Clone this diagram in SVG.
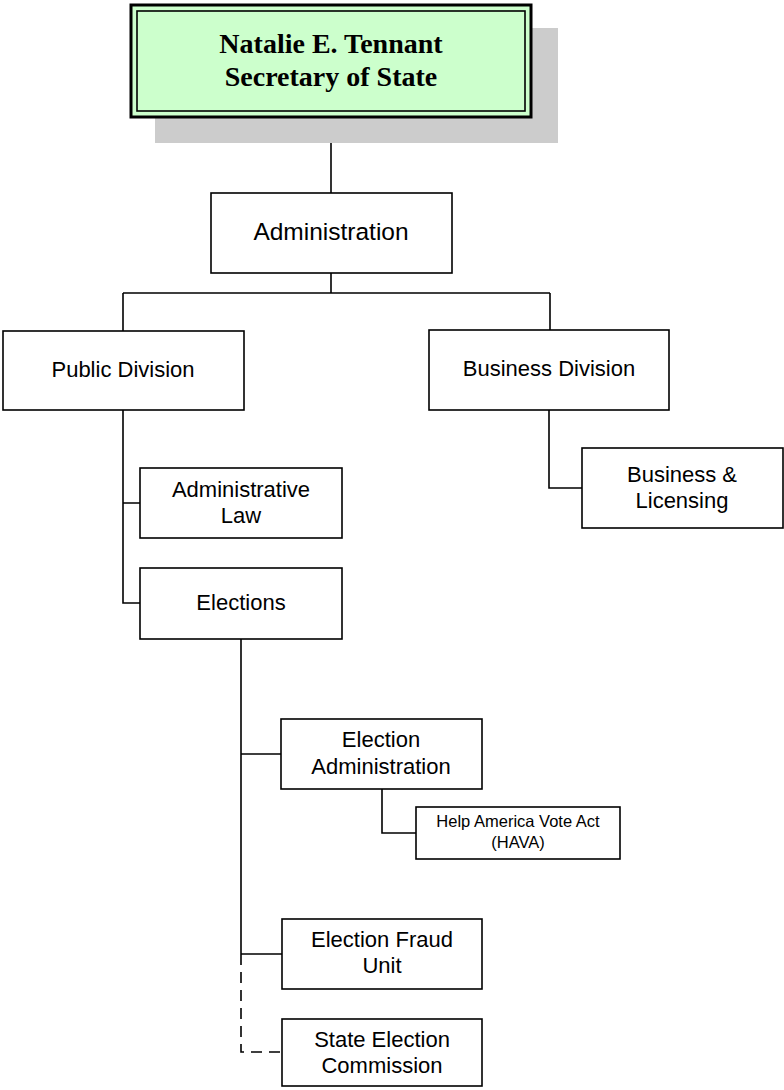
<svg xmlns="http://www.w3.org/2000/svg" width="784" height="1090" viewBox="0 0 784 1090">
<style>
.box{fill:#fff;stroke:#000;stroke-width:1.6}
.t{font-family:"Liberation Sans",Arial,sans-serif;font-size:22px;fill:#000;text-anchor:middle}
.s{font-size:16.5px}
.big{font-size:24.5px}
.ln{fill:none;stroke:#000;stroke-width:1.6}
.dash{stroke-dasharray:11,7}
.top{font-family:"Liberation Serif","Times New Roman",serif;font-weight:bold;font-size:28px;text-anchor:middle;fill:#000}
</style>
<rect width="784" height="1090" fill="#fff"/>
<g id="connectors">
<path class="ln" d="M331 118V193"/>
<path class="ln" d="M331 273V293M123 293H550M123 293V331M550 293V330"/>
<path class="ln" d="M123 410V603H140M123 503H140"/>
<path class="ln" d="M549 410V488H582"/>
<path class="ln" d="M241 639V954M241 754H281M241 954H282"/>
<path class="ln dash" d="M241 954V1052H282"/>
<path class="ln" d="M382 789V833H416"/>
</g>
<g id="secretary">
<rect x="155" y="28" width="403" height="115" fill="#cccccc"/>
<rect x="131" y="5" width="400" height="112" fill="#ccffcc" stroke="#000" stroke-width="3"/>
<rect x="137" y="11" width="388" height="100" fill="none" stroke="#000" stroke-width="1.6"/>
<text class="top" x="331" y="53">Natalie E. Tennant</text>
<text class="top" x="331" y="86">Secretary of State</text>
</g>
<g id="administration">
<rect class="box" x="211" y="193" width="241" height="80"/>
<text class="t big" x="331" y="240">Administration</text>
</g>
<g id="public-division">
<rect class="box" x="3" y="331" width="241" height="79"/>
<text class="t" x="123" y="377">Public Division</text>
</g>
<g id="business-division">
<rect class="box" x="429" y="330" width="240" height="80"/>
<text class="t" x="549" y="376">Business Division</text>
</g>
<g id="business-licensing">
<rect class="box" x="582" y="448" width="201" height="80"/>
<text class="t" x="682" y="482">Business &amp;</text>
<text class="t" x="682" y="508">Licensing</text>
</g>
<g id="administrative-law">
<rect class="box" x="140" y="468" width="202" height="70"/>
<text class="t" x="241" y="497">Administrative</text>
<text class="t" x="241" y="523">Law</text>
</g>
<g id="elections">
<rect class="box" x="140" y="568" width="202" height="71"/>
<text class="t" x="241" y="610">Elections</text>
</g>
<g id="election-administration">
<rect class="box" x="281" y="719" width="201" height="70"/>
<text class="t" x="381" y="747">Election</text>
<text class="t" x="381" y="774">Administration</text>
</g>
<g id="hava">
<rect class="box" x="416" y="807" width="204" height="52"/>
<text class="t s" x="518" y="827">Help America Vote Act</text>
<text class="t s" x="518" y="848">(HAVA)</text>
</g>
<g id="election-fraud-unit">
<rect class="box" x="282" y="919" width="200" height="70"/>
<text class="t" x="382" y="947">Election Fraud</text>
<text class="t" x="382" y="973">Unit</text>
</g>
<g id="state-election-commission">
<rect class="box" x="282" y="1019" width="200" height="67"/>
<text class="t" x="382" y="1047">State Election</text>
<text class="t" x="382" y="1073">Commission</text>
</g>
</svg>
